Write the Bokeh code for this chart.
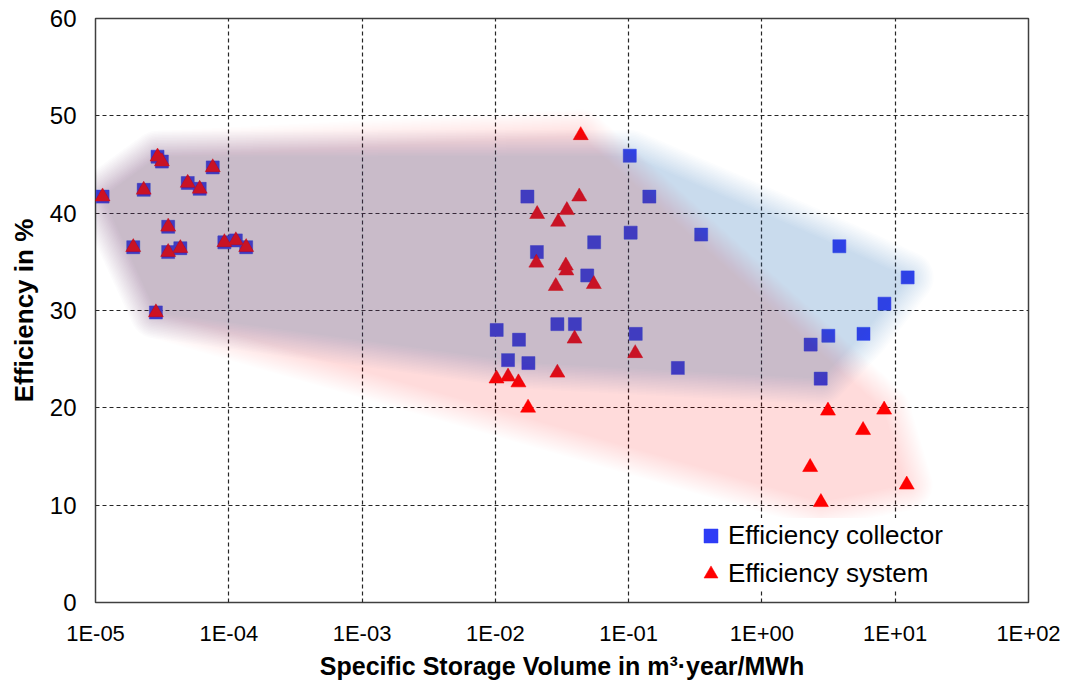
import numpy as np
from bokeh.plotting import figure
from bokeh.models import Range1d, FixedTicker, CustomJSTickFormatter, Legend, LegendItem
from bokeh.embed import file_html
from bokeh.resources import INLINE

# ---------------- data ----------------
collector_x = [1.13e-5, 2.92e-5, 3.15e-5, 7.58e-5, 2.30e-5, 4.92e-5, 6.05e-5, 3.51e-5,
               1.92e-5, 3.51e-5, 4.33e-5, 9.27e-5, 1.13e-4, 1.35e-4, 2.84e-5,
               0.102, 0.0174, 0.143, 0.1035, 0.0551, 0.0205, 0.0489, 0.01023, 0.0292,
               0.0395, 0.113, 0.01504, 0.01245, 0.0177, 0.234, 0.35,
               3.81, 12.4, 8.3, 3.15, 5.78, 2.32, 2.76]
collector_y = [41.7, 45.8, 45.3, 44.7, 42.4, 43.1, 42.5, 38.6,
               36.5, 36.0, 36.4, 37.0, 37.2, 36.5, 29.8,
               45.9, 41.7, 41.7, 38.0, 37.0, 36.0, 33.6, 28.0, 28.6,
               28.6, 27.6, 27.0, 24.9, 24.6, 24.1, 37.8,
               36.6, 33.4, 30.7, 27.4, 27.6, 26.5, 23.0]

system_x = [1.13e-5, 2.92e-5, 3.15e-5, 7.58e-5, 2.30e-5, 4.92e-5, 6.05e-5, 3.51e-5,
            1.92e-5, 3.51e-5, 4.33e-5, 9.27e-5, 1.13e-4, 1.35e-4, 2.84e-5,
            0.0437, 0.0426, 0.0344, 0.0206, 0.0296, 0.0203, 0.0338, 0.0341, 0.0284,
            0.0548, 0.0393, 0.112, 0.0102, 0.01245, 0.0149, 0.0292, 0.0176,
            3.13, 8.26, 5.74, 2.30, 12.2, 2.77]
system_y = [41.7, 45.8, 45.3, 44.7, 42.4, 43.1, 42.5, 38.6,
            36.5, 36.0, 36.4, 37.0, 37.2, 36.5, 29.8,
            48.0, 41.7, 40.3, 39.9, 39.1, 34.9, 34.6, 34.1, 32.5,
            32.7, 27.1, 25.6, 23.0, 23.2, 22.6, 23.6, 20.0,
            19.7, 19.8, 17.7, 13.9, 12.1, 10.3]

x_ticks = [1e-5, 1e-4, 1e-3, 1e-2, 1e-1, 1e0, 1e1, 1e2]
x_tick_labels = ["1E-05", "1E-04", "1E-03", "1E-02", "1E-01", "1E+00", "1E+01", "1E+02"]
y_ticks = [0, 10, 20, 30, 40, 50, 60]

series_names = ["Efficiency collector", "Efficiency system"]

# ---------------- layout ----------------
W, H = 1065, 684
ML, MR, MT, MB = 95, 37, 18, 82
FW, FH = W - ML - MR, H - MT - MB

p = figure(width=W, height=H, x_axis_type="log",
           x_range=Range1d(x_ticks[0], x_ticks[-1]),
           y_range=Range1d(y_ticks[0], y_ticks[-1]),
           output_backend="svg", toolbar_location=None,
           min_border_left=ML, min_border_right=MR,
           min_border_top=MT, min_border_bottom=MB)
p.background_fill_color = "white"
p.border_fill_color = "white"
p.outline_line_color = "#404040"
p.outline_line_width = 1.5

FONT = "Liberation Sans"
for ax in (p.xaxis[0], p.yaxis[0]):
    ax.axis_line_color = None
    ax.major_tick_line_color = None
    ax.minor_tick_line_color = None
    ax.major_tick_out = 0
    ax.major_tick_in = 0
    ax.minor_tick_out = 0
    ax.minor_tick_in = 0
    ax.major_label_text_font = FONT
    ax.major_label_text_color = "black"
    ax.axis_label_text_font = FONT
    ax.axis_label_text_font_style = "bold"
    ax.axis_label_text_color = "black"

p.xaxis.axis_label_text_font_size = "25px"
p.yaxis.axis_label_text_font_size = "26px"
p.xaxis.ticker = FixedTicker(ticks=x_ticks, minor_ticks=[])
p.xaxis.formatter = CustomJSTickFormatter(args=dict(tv=x_ticks, tl=x_tick_labels), code="""
let best = 0, bd = 1e9;
for (let i = 0; i < tv.length; i++) {
  const d = Math.abs(Math.log10(tick) - Math.log10(tv[i]));
  if (d < bd) { bd = d; best = i; }
}
return tl[best];
""")
p.yaxis.ticker = FixedTicker(ticks=y_ticks, minor_ticks=[])
p.xaxis.major_label_text_font_size = "22px"
p.yaxis.major_label_text_font_size = "24px"
p.xaxis.major_label_standoff = 18
p.yaxis.major_label_standoff = 19
p.xaxis.axis_label_standoff = 3
p.yaxis.axis_label_standoff = 8
p.xaxis.axis_label = "Specific Storage Volume in m\u00b3\u00b7year/MWh"
p.yaxis.axis_label = "Efficiency in %"

for g in (p.xgrid[0], p.ygrid[0]):
    g.grid_line_color = "#262626"
    g.grid_line_dash = "4 3"
    g.grid_line_width = 1.2
    g.minor_grid_line_color = None

# ---------------- markers ----------------
r_col = p.scatter(collector_x, collector_y, marker="square", size=13,
                  fill_color="#2E3CF6", line_color="#2E3CF6", line_width=0.5)
r_sys = p.scatter(system_x, system_y, marker="triangle", size=15,
                  fill_color="#FF0000", line_color="#FF0000", line_width=0.5)

# ---------------- soft hull shading (derived from the data) ----------------
SX = FW / (np.log10(x_ticks[-1]) - np.log10(x_ticks[0]))
SY = FH / (y_ticks[-1] - y_ticks[0])


def convex_hull(pts):
    pts = sorted(set(map(tuple, np.round(pts, 6))))
    if len(pts) < 3:
        return np.array(pts)

    def cross(o, a, b):
        return (a[0] - o[0]) * (b[1] - o[1]) - (a[1] - o[1]) * (b[0] - o[0])
    lower, upper = [], []
    for q in pts:
        while len(lower) >= 2 and cross(lower[-2], lower[-1], q) <= 0:
            lower.pop()
        lower.append(q)
    for q in reversed(pts):
        while len(upper) >= 2 and cross(upper[-2], upper[-1], q) <= 0:
            upper.pop()
        upper.append(q)
    return np.array(lower[:-1] + upper[:-1])


def soft_layers(xs, ys, dmin, dmax, k):
    P = np.column_stack([np.log10(xs) * SX, np.array(ys) * SY])
    Hh = convex_hull(P)
    ang = np.linspace(0, 2 * np.pi, 48, endpoint=False)
    circ = np.stack([np.cos(ang), np.sin(ang)], -1)
    lx, ly = [], []
    for d in np.linspace(dmin, dmax, k):
        pts = (Hh[:, None, :] + d * circ[None, :, :]).reshape(-1, 2)
        O = convex_hull(pts)
        lx.append(list(10 ** (O[:, 0] / SX)))
        ly.append(list(O[:, 1] / SY))
    return lx, ly


K = 18
a_red = 1 - (1 - 0.16) ** (1 / K)
a_blue = 1 - (1 - 0.245) ** (1 / K)
sx_, sy_ = soft_layers(system_x, system_y, 0, 26, K)
p.patches(sx_, sy_, fill_color="#FF0000", fill_alpha=a_red, line_color=None)
cx_, cy_ = soft_layers(collector_x, collector_y, 0, 26, K)
p.patches(cx_, cy_, fill_color="#5B9BD5", fill_alpha=a_blue, line_color=None)

# ---------------- legend ----------------
legend = Legend(items=[LegendItem(label=series_names[0], renderers=[r_col]),
                       LegendItem(label=series_names[1], renderers=[r_sys])],
                location=(598, 11), orientation="vertical",
                glyph_width=35, glyph_height=35, label_standoff=0,
                padding=2, spacing=3, margin=0,
                label_text_font=FONT, label_text_font_size="26px",
                label_text_color="black",
                background_fill_color="white", background_fill_alpha=1.0,
                border_line_color=None)
p.add_layout(legend)

open("out.html", "w").write(file_html(p, INLINE))
